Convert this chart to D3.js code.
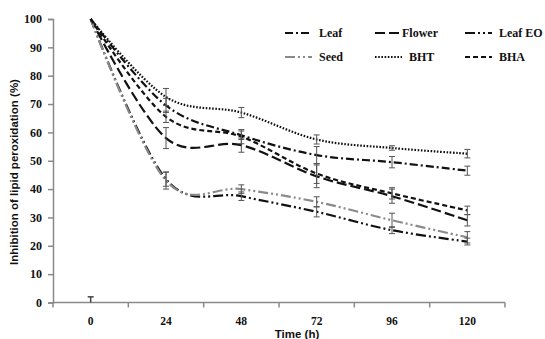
<!DOCTYPE html>
<html lang="en">
  <head>
    <meta charset="UTF-8" />
    <title>Lipid peroxidation</title>
    <style>
      body { margin: 0; background: #fff; }
      svg text { font-family: "Liberation Serif", "Times New Roman", serif; font-weight: bold; }
      .axis-title { font-family: "Liberation Sans", Arial, sans-serif; }
    </style>
  </head>
  <body>
    <script src="https://cdn.jsdelivr.net/npm/d3@7/dist/d3.min.js"></script>
    <script>

      // data
      var times = [0, 24, 48, 72, 96, 120];
      var yTicks = [0, 10, 20, 30, 40, 50, 60, 70, 80, 90, 100];

      var leaf      = [100, 69.5, 59, 52, 49.5, 46.5];
      var leafErr   = [0, 2.5, 1.5, 3, 2, 1.6];
      var flower    = [100, 58, 55.5, 44.5, 37.5, 29];
      var flowerErr = [0, 3.7, 2.5, 4, 2.5, 2];
      var leafEO    = [100, 43.5, 37.5, 32, 25.5, 21.5];
      var leafEOErr = [0, 2.5, 1.5, 1.8, 1.2, 1.2];
      var seed      = [100, 43, 40, 35.5, 29, 23];
      var seedErr   = [0, 3, 1.5, 1.8, 2.5, 2];
      var bht       = [100, 72.5, 67, 57.5, 54.5, 52.5];
      var bhtErr    = [0, 3, 1.8, 1.6, 0.8, 1.5];
      var bha       = [100, 65.5, 58.5, 45.5, 38.5, 32.5];
      var bhaErr    = [0, 2, 2.5, 3.5, 2, 1.5];

      // lone error bar drawn at time 0, value 0
      var controlValue = [0];
      var controlErr = [2];

      var series = [
        { name: "Leaf",    values: leaf,   err: leafErr,   color: "#111", dash: "8,3,2,3" },
        { name: "Flower",  values: flower, err: flowerErr, color: "#111", dash: "10,4" },
        { name: "Leaf EO", values: leafEO, err: leafEOErr, color: "#111", dash: "10,3,2,3,2,3" },
        { name: "Seed",    values: seed,   err: seedErr,   color: "#8a8a8a", dash: "10,3,2,3,2,3" },
        { name: "BHT",     values: bht,    err: bhtErr,    color: "#111", dash: "1.6,1.6" },
        { name: "BHA",     values: bha,    err: bhaErr,    color: "#111", dash: "5,3" }
      ];

      var w = 545,
          h = 339;
      var margin = { top: 19, right: 40, bottom: 36.5, left: 53 };

      var svg = d3.select("body").append("svg")
        .attr("width", w)
        .attr("height", h);

      var xScale = d3.scaleBand()
                     .domain(times)
                     .range([margin.left, w - margin.right])
                     .padding(0);
      var yScale = d3.scaleLinear()
                     .domain([0, 100])
                     .range([h - margin.bottom, margin.top]);

      function xc(t) { return xScale(t) + xScale.bandwidth() / 2; }

      var axisColor = "#8a8a8a";

      // y axis
      var yAxis = svg.append("g")
         .attr("transform", "translate(" + margin.left + ",0)")
         .call(d3.axisLeft(yScale).tickValues(yTicks).tickSize(5).tickPadding(6));
      yAxis.select(".domain").attr("stroke", axisColor).attr("stroke-width", 1.5);
      yAxis.selectAll(".tick line").attr("stroke", axisColor).attr("stroke-width", 1.5);
      yAxis.selectAll("text").attr("font-size", 12).attr("fill", "#111")
        .style("font-family", "'Liberation Serif', serif").style("font-weight", "bold");

      // x axis: ticks on band edges, labels on centers
      var xAxis = svg.append("g")
         .attr("transform", "translate(0," + yScale(0) + ")");
      xAxis.append("line")
         .attr("x1", margin.left).attr("x2", w - margin.right)
         .attr("stroke", axisColor).attr("stroke-width", 1.5);
      var edges = times.map(function(t) { return xScale(t); }).concat([w - margin.right]);
      xAxis.selectAll(".xtick")
         .data(edges)
         .enter().append("line")
         .attr("x1", function(d) { return d; })
         .attr("x2", function(d) { return d; })
         .attr("y1", 0).attr("y2", 5)
         .attr("stroke", axisColor).attr("stroke-width", 1.5);
      xAxis.selectAll(".xlabel")
         .data(times)
         .enter().append("text")
         .attr("x", function(d) { return xc(d); })
         .attr("y", 22)
         .attr("text-anchor", "middle")
         .attr("font-size", 11.5)
         .attr("fill", "#111")
         .text(function(d) { return d; });

      // axis titles
      svg.append("text")
         .attr("class", "axis-title")
         .attr("x", 297).attr("y", 338)
         .attr("text-anchor", "middle")
         .attr("font-size", 11.5)
         .attr("fill", "#111")
         .text("Time (h)");
      svg.append("text")
         .attr("class", "axis-title")
         .attr("transform", "translate(18,172)rotate(-90)")
         .attr("text-anchor", "middle")
         .attr("font-size", 11.5)
         .attr("fill", "#111")
         .text("Inhibition of lipid peroxidation (%)");

      var line = d3.line()
        .x(function(d, i) { return xc(times[i]); })
        .y(function(d) { return yScale(d); })
        .curve(d3.curveCatmullRom.alpha(0));

      // error bars
      function errorBars(vals, errs, color) {
        var g = svg.append("g").attr("stroke", color).attr("stroke-width", 1);
        vals.forEach(function(v, i) {
          var e = errs[i];
          if (!e) return;
          var x = xc(times[i]);
          var y1 = yScale(v + e), y2 = yScale(Math.max(0, v - e));
          g.append("line").attr("x1", x).attr("x2", x).attr("y1", y1).attr("y2", y2);
          g.append("line").attr("x1", x - 3).attr("x2", x + 3).attr("y1", y1).attr("y2", y1);
          if (v - e >= 0) g.append("line").attr("x1", x - 3).attr("x2", x + 3).attr("y1", y2).attr("y2", y2);
        });
      }

      series.forEach(function(s) {
        svg.append("path")
           .datum(s.values)
           .attr("d", line)
           .attr("fill", "none")
           .attr("stroke", s.color)
           .attr("stroke-width", 2.2)
           .attr("stroke-dasharray", s.dash);
      });
      series.forEach(function(s) { errorBars(s.values, s.err, "#555"); });

      // lone bar at time 0
      (function() {
        var x = xc(times[0]);
        var y1 = yScale(controlValue[0] + controlErr[0]);
        svg.append("line").attr("x1", x).attr("x2", x)
           .attr("y1", y1).attr("y2", yScale(controlValue[0]))
           .attr("stroke", "#444").attr("stroke-width", 1.5);
        svg.append("line").attr("x1", x - 3).attr("x2", x + 3)
           .attr("y1", y1).attr("y2", y1)
           .attr("stroke", "#444").attr("stroke-width", 1.5);
      })();

      // legend, 3 columns x 2 rows
      var legX = [285, 375, 465],
          legY = [33, 57];
      series.forEach(function(s, i) {
        var col = i % 3, row = Math.floor(i / 3);
        var g = svg.append("g")
           .attr("transform", "translate(" + legX[col] + "," + legY[row] + ")");
        g.append("line")
         .attr("x1", 0).attr("x2", 27)
         .attr("stroke", s.color)
         .attr("stroke-width", 2.2)
         .attr("stroke-dasharray", s.dash);
        g.append("text")
         .attr("x", s.name === "Flower" ? 27 : 34)
         .attr("y", 4)
         .attr("font-size", 12)
         .attr("fill", "#111")
         .text(s.name);
      });

    </script>
  </body>
</html>
